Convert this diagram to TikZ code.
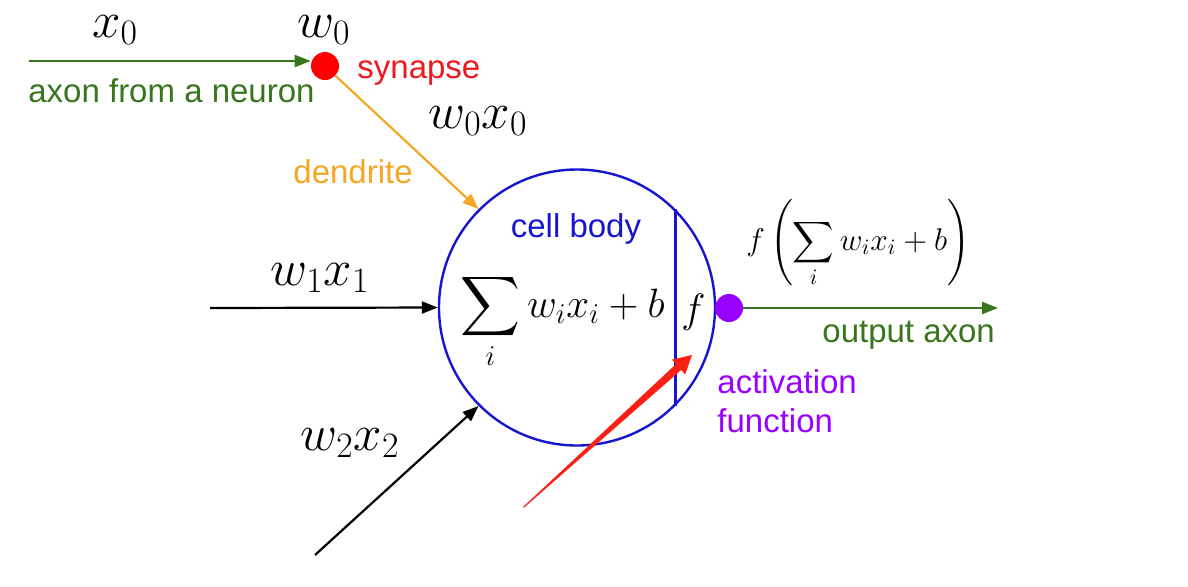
\RequirePackage{fix-cm}
\documentclass[tikz,border=0pt]{standalone}
\usepackage{amsmath}
\usepackage{fontspec}
\newfontfamily\labelfont{Liberation Sans}
\usepackage{tikz}
\usetikzlibrary{arrows.meta,positioning}
\definecolor{axongreen}{RGB}{56,118,29}
\definecolor{synred}{RGB}{238,24,30}
\definecolor{dendorange}{RGB}{245,166,35}
\definecolor{cellblue}{RGB}{22,22,208}
\definecolor{actpurple}{RGB}{153,0,255}
\definecolor{annotred}{RGB}{250,32,20}

\begin{document}
\begin{tikzpicture}[x=0.5pt,y=-0.5pt,
     lbl/.style={font=\labelfont\fontsize{16.5}{20}\selectfont,inner sep=0pt,anchor=base west},
     mth/.style={font=\fontsize{25.5}{30}\selectfont,inner sep=0pt,anchor=base},
     dot/.style={circle,inner sep=0pt,minimum size=14pt},
     wire/.style={line width=1.1pt,-{Triangle[length=8pt,width=6pt]}}]
   \useasboundingbox (0,0) rectangle (1188,586);
   \node[circle,draw=cellblue,line width=1.2pt,minimum size=138pt,inner sep=0pt] (body) at (577,307.5){};
   \draw[cellblue,line width=1.2pt] (body.45) -- (body.-45);
   \node[dot,fill=red] (syn) at (325,66){}; \node[dot,fill=actpurple] (act) at (729,308){};
   \coordinate (in0) at (29,61); \coordinate (in1) at (210,308);
   \coordinate (in2) at (315,555); \coordinate (out) at (998,308);
   \draw[wire,axongreen] (in0) -- (in0 -| syn.west);
   \draw[wire,dendorange] (syn) -- (body.135);
   \draw[wire] (in1) -- (body.west);
   \draw[wire] (in2) -- (body.225);
   \draw[wire,axongreen] (act) -- (out);
   \fill[annotred] (523,507) -- (676.0,364.1) -- (672.0,359.6) -- (692,355) -- (685.2,374.4) -- (681.2,369.9) -- (523.8,507.8) -- cycle;
   \node[mth] (lx0) at (115,37){$x_0$}; \node[mth] (lw0) at (324,37){$w_0$};
   \node[mth] (lw0x0) at (478,128){$w_0x_0$};
   \node[mth] (lw1x1) at (320,285){$w_1x_1$}; \node[mth] (lw2x2) at (350,450){$w_2x_2$};
   \node[lbl,text=axongreen] (laxon) at (28,102){axon from a neuron};
   \node[lbl,text=synred] (lsyn) at (357,78){synapse};
   \node[lbl,text=dendorange] (lden) at (293,183){dendrite};
   \node[lbl,text=cellblue,anchor=base] (lcell) at (576,237){cell body};
   \node[font=\fontsize{20.5}{25}\selectfont,inner sep=0pt,anchor=base west] (lsum) at (460,317){$\displaystyle\sum_i w_ix_i+b$};
   \node[font=\fontsize{20.5}{25}\selectfont,inner sep=0pt,anchor=base west] (lf) at (681,322){$f$};
   \node[font=\fontsize{15.7}{19}\selectfont,inner sep=0pt,anchor=base west] (lfout) at (746,250){$f\left(\displaystyle\sum_i w_ix_i+b\right)$};
   \node[lbl,text=axongreen] (lout) at (822,342){output axon};
   \node[lbl,text=actpurple] (lact) at (717,393){activation};
   \node[lbl,text=actpurple] (lfun) at (717,432){function};
  \end{tikzpicture}
\end{document}
